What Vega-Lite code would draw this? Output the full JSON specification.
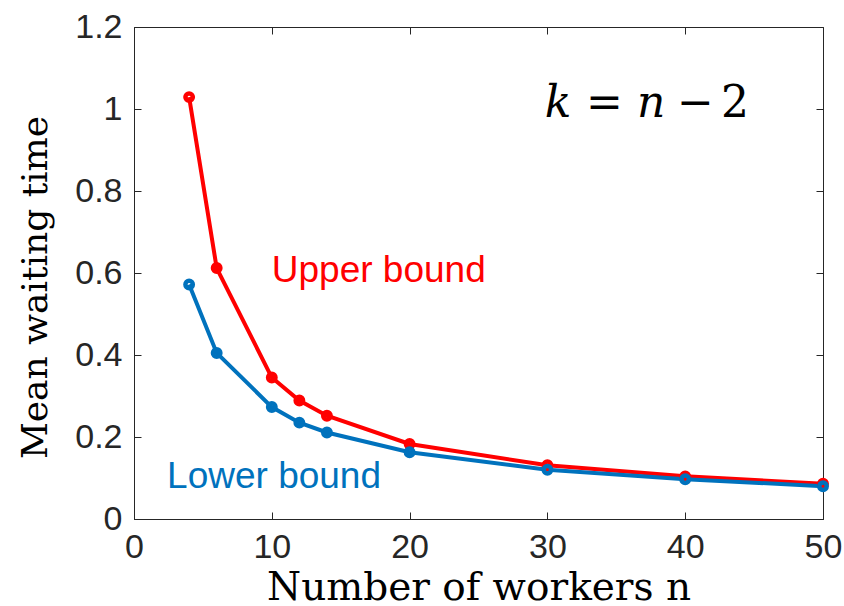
{
  "$schema": "https://vega.github.io/schema/vega-lite/v6.json",
  "autosize": "none",
  "width": 689,
  "height": 492,
  "padding": {"left": 134, "top": 27, "right": 21, "bottom": 87},
  "background": "white",
  "config": {
    "view": {"stroke": "#262626", "strokeWidth": 1},
    "axis": {
      "grid": false,
      "domainColor": "#262626",
      "domainWidth": 1,
      "tickColor": "#262626",
      "tickSize": -7,
      "tickWidth": 1,
      "labelColor": "#262626",
      "labelFont": "Liberation Sans",
      "labelFontSize": 34,
      "labelFlush": false,
      "labelOverlap": false,
      "titleColor": "#000000",
      "titleFont": "DejaVu Serif",
      "titleFontWeight": "normal",
      "titleFontSize": 38
    }
  },
  "resolve": {"axis": {"x": "independent", "y": "independent"}},
  "datasets": {
    "curves": [
      {"n": 4, "w": 1.029, "series": "Upper"},
      {"n": 6, "w": 0.612, "series": "Upper"},
      {"n": 10, "w": 0.345, "series": "Upper"},
      {"n": 12, "w": 0.289, "series": "Upper"},
      {"n": 14, "w": 0.252, "series": "Upper"},
      {"n": 20, "w": 0.183, "series": "Upper"},
      {"n": 30, "w": 0.131, "series": "Upper"},
      {"n": 40, "w": 0.104, "series": "Upper"},
      {"n": 50, "w": 0.086, "series": "Upper"},
      {"n": 4, "w": 0.572, "series": "Lower"},
      {"n": 6, "w": 0.405, "series": "Lower"},
      {"n": 10, "w": 0.273, "series": "Lower"},
      {"n": 12, "w": 0.235, "series": "Lower"},
      {"n": 14, "w": 0.211, "series": "Lower"},
      {"n": 20, "w": 0.163, "series": "Lower"},
      {"n": 30, "w": 0.120, "series": "Lower"},
      {"n": 40, "w": 0.097, "series": "Lower"},
      {"n": 50, "w": 0.080, "series": "Lower"}
    ],
    "labels": [
      {"n": 10.0, "w": 0.578, "text": "Upper bound", "series": "Upper"},
      {"n": 2.4, "w": 0.075, "text": "Lower bound", "series": "Lower"}
    ],
    "mathItalic": [
      {"n": 29.8, "w": 0.98, "t": "k"},
      {"n": 36.5, "w": 0.98, "t": "n"}
    ],
    "mathRoman": [
      {"n": 32.8, "w": 0.98, "t": "="},
      {"n": 39.4, "w": 0.98, "t": "−"},
      {"n": 42.6, "w": 0.98, "t": "2"}
    ]
  },
  "layer": [
    {
      "data": {"name": "curves"},
      "mark": {"type": "line", "strokeWidth": 4, "clip": false},
      "encoding": {
        "x": {
          "field": "n", "type": "quantitative",
          "scale": {"domain": [0, 50], "nice": false, "zero": false},
          "axis": {
            "orient": "bottom",
            "values": [0, 10, 20, 30, 40, 50],
            "title": "Number of workers n",
            "titleFontSize": 39,
            "labelPadding": 18,
            "titleBaseline": "alphabetic",
            "titleY": 80
          }
        },
        "y": {
          "field": "w", "type": "quantitative",
          "scale": {"domain": [0, 1.2], "nice": false, "zero": false},
          "axis": {
            "orient": "left",
            "values": [0, 0.2, 0.4, 0.6, 0.8, 1, 1.2],
            "format": "~g",
            "title": "Mean waiting time",
            "titleFontSize": 36,
            "labelPadding": 19,
            "titleBaseline": "alphabetic",
            "titleAngle": -90,
            "titleX": -88,
            "titleY": 260
          }
        },
        "color": {
          "field": "series", "type": "nominal",
          "scale": {"domain": ["Upper", "Lower"], "range": ["#ff0000", "#0072bd"]},
          "legend": null
        }
      }
    },
    {
      "data": {"name": "curves"},
      "mark": {"type": "point", "shape": "circle", "filled": false, "size": 55, "strokeWidth": 4.5, "opacity": 1, "clip": false},
      "encoding": {
        "x": {
          "field": "n", "type": "quantitative",
          "scale": {"domain": [0, 50], "nice": false, "zero": false},
          "axis": {"orient": "top", "values": [0, 10, 20, 30, 40, 50], "labels": false, "title": null, "domain": false}
        },
        "y": {
          "field": "w", "type": "quantitative",
          "scale": {"domain": [0, 1.2], "nice": false, "zero": false},
          "axis": {"orient": "right", "values": [0, 0.2, 0.4, 0.6, 0.8, 1, 1.2], "labels": false, "title": null, "domain": false}
        },
        "color": {
          "field": "series", "type": "nominal",
          "scale": {"domain": ["Upper", "Lower"], "range": ["#ff0000", "#0072bd"]},
          "legend": null
        }
      }
    },
    {
      "data": {"name": "labels"},
      "mark": {"type": "text", "align": "left", "baseline": "alphabetic", "font": "Liberation Sans", "fontSize": 37},
      "encoding": {
        "x": {"field": "n", "type": "quantitative", "axis": null},
        "y": {"field": "w", "type": "quantitative", "axis": null},
        "text": {"field": "text"},
        "color": {
          "field": "series", "type": "nominal",
          "scale": {"domain": ["Upper", "Lower"], "range": ["#ff0000", "#3c78d8"]},
          "legend": null
        }
      }
    },
    {
      "data": {"name": "mathItalic"},
      "mark": {"type": "text", "align": "left", "baseline": "alphabetic", "font": "DejaVu Serif", "fontStyle": "italic", "fontSize": 44, "color": "#000000"},
      "encoding": {
        "x": {"field": "n", "type": "quantitative", "axis": null},
        "y": {"field": "w", "type": "quantitative", "axis": null},
        "text": {"field": "t"}
      }
    },
    {
      "data": {"name": "mathRoman"},
      "mark": {"type": "text", "align": "left", "baseline": "alphabetic", "font": "DejaVu Serif", "fontSize": 44, "color": "#000000"},
      "encoding": {
        "x": {"field": "n", "type": "quantitative", "axis": null},
        "y": {"field": "w", "type": "quantitative", "axis": null},
        "text": {"field": "t"}
      }
    }
  ]
}
